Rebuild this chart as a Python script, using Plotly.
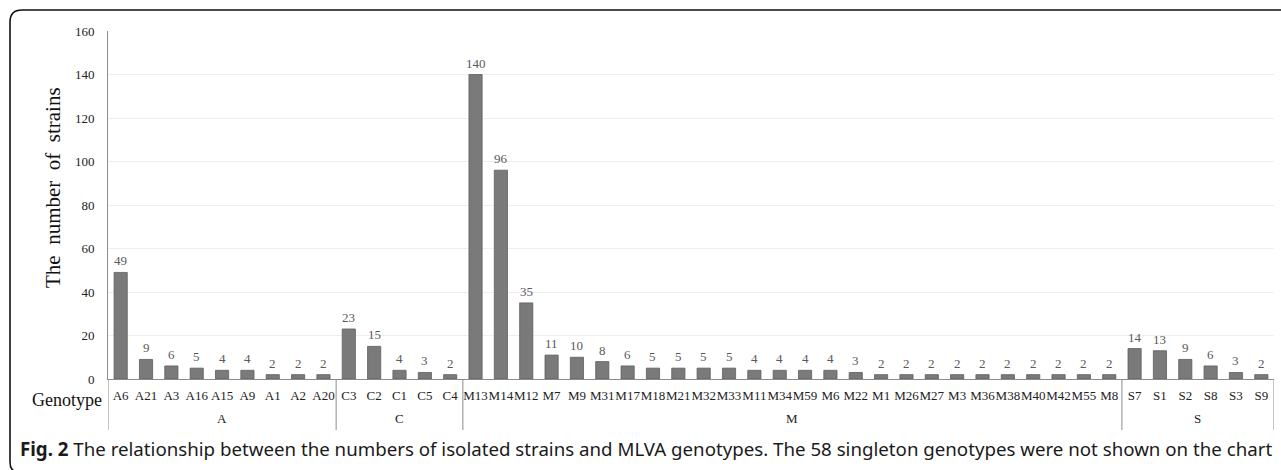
import plotly.graph_objects as go

genotypes = ["A6", "A21", "A3", "A16", "A15", "A9", "A1", "A2", "A20",
             "C3", "C2", "C1", "C5", "C4",
             "M13", "M14", "M12", "M7", "M9", "M31", "M17", "M18", "M21", "M32", "M33",
             "M11", "M34", "M59", "M6", "M22", "M1", "M26", "M27", "M3", "M36", "M38",
             "M40", "M42", "M55", "M8",
             "S7", "S1", "S2", "S8", "S3", "S9"]
counts = [49, 9, 6, 5, 4, 4, 2, 2, 2,
          23, 15, 4, 3, 2,
          140, 96, 35, 11, 10, 8, 6, 5, 5, 5, 5,
          4, 4, 4, 4, 3, 2, 2, 2, 2, 2, 2,
          2, 2, 2, 2,
          14, 13, 9, 6, 3, 2]
groups = ["A", "C", "M", "S"]
group_sizes = [9, 5, 26, 6]
y_ticks = [0, 20, 40, 60, 80, 100, 120, 140, 160]

W, H = 1281, 470
L, R, T, B = 108, 1274, 31, 379
pw, ph = R - L, B - T

def px(x):
    return (x - L) / pw

def py(y):
    return (B - y) / ph

idx = list(range(len(genotypes)))
serif = "Liberation Serif, Times New Roman, serif"

fig = go.Figure()
fig.add_trace(go.Bar(
    x=idx, y=counts,
    marker=dict(color="#7a7a7a", line=dict(color="#5e5e5e", width=0.8)),
    width=0.52, hoverinfo="x+y",
))

shapes = []
annotations = []
for i, c in zip(idx, counts):
    annotations.append(dict(x=i, y=c, xref="x", yref="y", text=str(c), showarrow=False,
                            yanchor="bottom", yshift=2,
                            font=dict(family=serif, size=13, color="#595959")))
start = 0
bounds = [-0.5]
for g, n in zip(groups, group_sizes):
    end = start + n
    bounds.append(end - 0.5)
    annotations.append(dict(x=(start + end - 1) / 2, xref="x", y=py(418), yref="paper",
                            text=g, showarrow=False, font=dict(family=serif, size=13, color="#222"),
                            yanchor="middle"))
    start = end
for b in bounds:
    shapes.append(dict(type="line", xref="x", yref="paper", x0=b, x1=b, y0=0, y1=py(430),
                       line=dict(color="#8c8c8c", width=1)))

# frame
x0f, y0f, r = 10, 10, 12
path = (f"M {px(1290)},{py(y0f)} L {px(x0f + r)},{py(y0f)} "
        f"Q {px(x0f)},{py(y0f)} {px(x0f)},{py(y0f + r)} "
        f"L {px(x0f)},{py(462)} Q {px(x0f)},{py(470)} {px(x0f + 6)},{py(472)}")
shapes.append(dict(type="path", xref="paper", yref="paper", path=path,
                   line=dict(color="#111", width=1.6)))

annotations.append(dict(x=px(53), xref="paper", y=py(187), yref="paper",
                        text="The  number  of  strains", textangle=-90, showarrow=False,
                        font=dict(family=serif, size=21, color="#111"), xanchor="center", yanchor="middle"))
annotations.append(dict(x=px(104), xref="paper", y=py(400), yref="paper", text="Genotype",
                        showarrow=False, xanchor="right", yanchor="middle",
                        font=dict(family=serif, size=18, color="#111")))
annotations.append(dict(x=px(18), xref="paper", y=py(448), yref="paper",
                        text="<b>Fig. 2</b> The relationship between the numbers of isolated strains and MLVA genotypes. "
                             "The 58 singleton genotypes were not shown on the chart",
                        showarrow=False, xanchor="left", yanchor="middle",
                        font=dict(family="Noto Sans, sans-serif", size=18.7, color="#1a1a1a")))

fig.update_layout(
    width=W, height=H, margin=dict(l=L, r=W - R, t=T, b=H - B),
    paper_bgcolor="white", plot_bgcolor="white", showlegend=False,
    bargap=0.48, shapes=shapes, annotations=annotations,
    xaxis=dict(range=[-0.5, len(genotypes) - 0.5], tickmode="array", tickvals=idx, ticktext=genotypes,
               tickfont=dict(family=serif, size=13, color="#222"), tickangle=0,
               showline=True, linecolor="#8c8c8c", linewidth=1, showgrid=False,
               ticks="", ticklabelstandoff=4, fixedrange=True),
    yaxis=dict(range=[0, 160], tickvals=y_ticks, tickfont=dict(family=serif, size=13, color="#222"),
               showline=True, linecolor="#8c8c8c", linewidth=1, gridcolor="#eeeeee", gridwidth=1,
               zeroline=False, ticks="", ticklabelstandoff=10, fixedrange=True),
)

fig.write_html("out.html", config={"displayModeBar": False},
               post_script="document.body.style.margin='0';document.body.style.overflow='hidden';")
